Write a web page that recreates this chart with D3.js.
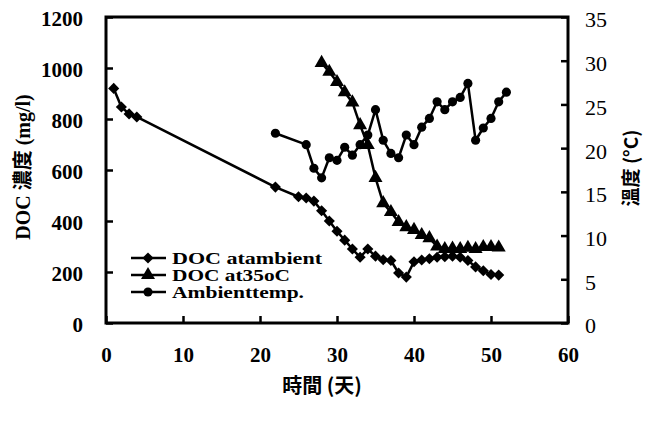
<!DOCTYPE html>
<html>
<head>
<meta charset="utf-8">
<script src="https://cdn.jsdelivr.net/npm/d3@7"></script>
<style>
  body { margin: 0; background: #fff; }
  .tick text { font-family: "Liberation Serif", "Times New Roman", serif; }
</style>
</head>
<body>
<div id="chart"></div>
<script>
// DOC at ambient (mg/l), left axis
var ambDays = [1, 2, 3, 4, 22, 25, 26, 27, 28, 29, 30, 31, 32, 33, 34, 35, 36, 37, 38, 39, 40, 41, 42, 43, 44, 45, 46, 47, 48, 49, 50, 51];
var ambDoc = [920, 847, 820, 808, 533, 495, 490, 478, 440, 400, 360, 325, 290, 258, 290, 262, 248, 245, 196, 180, 240, 247, 252, 258, 260, 262, 258, 245, 220, 205, 190, 188];

// DOC at 35oC (mg/l), left axis
var hotDays = [28, 29, 30, 31, 32, 33, 34, 35, 36, 37, 38, 39, 40, 41, 42, 43, 44, 45, 46, 47, 48, 49, 50, 51];
var hotDoc = [1020, 985, 945, 905, 865, 776, 698, 569, 470, 435, 396, 376, 365, 345, 333, 300, 290, 292, 290, 295, 290, 298, 298, 296];

// ambient temperature (oC), right axis
var tempDays = [22, 26, 27, 28, 29, 30, 31, 32, 33, 34, 35, 36, 37, 38, 39, 40, 41, 42, 43, 44, 45, 46, 47, 48, 49, 50, 51, 52];
var tempVals = [21.7, 20.4, 17.7, 16.6, 18.9, 18.6, 20.1, 19.2, 20.4, 21.5, 24.4, 20.9, 19.4, 18.9, 21.5, 20.4, 22.4, 23.4, 25.3, 24.4, 25.3, 25.8, 27.4, 20.9, 22.3, 23.4, 25.3, 26.4];

var xTicks = [0, 10, 20, 30, 40, 50, 60];
var yTicks = [0, 200, 400, 600, 800, 1000, 1200];
var y2Ticks = [0, 5, 10, 15, 20, 25, 30, 35];
var legendNames = ['DOC atambient', 'DOC at35oC', 'Ambienttemp.'];

function drawChart() {
  var width = 645, height = 423;
  var plot = { left: 106, right: 568, top: 17, bottom: 323 };

  var svg = d3.select('#chart').append('svg')
    .attr('width', width)
    .attr('height', height);

  var xScale = d3.scaleLinear().domain([0, 60]).range([plot.left, plot.right]);
  var yScale = d3.scaleLinear().domain([0, 1200]).range([plot.bottom, plot.top]);
  var y2Scale = d3.scaleLinear().domain([0, 35]).range([plot.bottom, plot.top]);
  var fmt = d3.format('d');

  // axes, ticks pointing inside
  var xAxis = svg.append('g')
    .attr('transform', 'translate(0,' + plot.bottom + ')')
    .call(d3.axisBottom(xScale).tickValues(xTicks).tickFormat(fmt).tickSize(-7).tickPadding(24));
  var yAxis = svg.append('g')
    .attr('transform', 'translate(' + plot.left + ',0)')
    .call(d3.axisLeft(yScale).tickValues(yTicks).tickFormat(fmt).tickSize(-7).tickPadding(23));
  var y2Axis = svg.append('g')
    .attr('transform', 'translate(' + plot.right + ',0)')
    .call(d3.axisRight(y2Scale).tickValues(y2Ticks).tickFormat(fmt).tickSize(-7).tickPadding(17));

  [xAxis, yAxis, y2Axis].forEach(function(a) {
    a.select('.domain').remove();
    a.selectAll('.tick line').attr('stroke', '#000').attr('stroke-width', 2.5);
    a.selectAll('.tick text').attr('fill', '#000');
  });
  xAxis.selectAll('.tick text').style('font-size', '21px').style('font-weight', 'bold');
  yAxis.selectAll('.tick text').style('font-size', '21px').style('font-weight', 'bold').attr('dy', '0.42em');
  y2Axis.selectAll('.tick text').style('font-size', '22px').attr('dy', '0.45em');

  // frame
  svg.append('rect')
    .attr('x', plot.left)
    .attr('y', plot.top)
    .attr('width', plot.right - plot.left)
    .attr('height', plot.bottom - plot.top)
    .attr('fill', 'none')
    .attr('stroke', '#000')
    .attr('stroke-width', 3);

  var series = [
    { days: ambDays, vals: ambDoc, y: yScale, sym: d3.symbolSquare, size: 62, rot: 45 },
    { days: hotDays, vals: hotDoc, y: yScale, sym: d3.symbolTriangle, size: 85, rot: 0 },
    { days: tempDays, vals: tempVals, y: y2Scale, sym: d3.symbolCircle, size: 66, rot: 0 }
  ];

  series.forEach(function(s) {
    var pts = s.days.map(function(d, i) { return [d, s.vals[i]]; });
    var line = d3.line()
      .x(function(p) { return xScale(p[0]); })
      .y(function(p) { return s.y(p[1]); });
    svg.append('path')
      .datum(pts)
      .attr('d', line)
      .attr('fill', 'none')
      .attr('stroke', '#000')
      .attr('stroke-width', 2.5)
      .attr('stroke-linejoin', 'round');
    svg.append('g').selectAll('path')
      .data(pts)
      .enter().append('path')
      .attr('d', d3.symbol().type(s.sym).size(s.size))
      .attr('transform', function(p) {
        return 'translate(' + xScale(p[0]) + ',' + s.y(p[1]) + ') rotate(' + s.rot + ')';
      })
      .attr('fill', '#000');
  });

  // legend
  var legend = svg.append('g');
  legendNames.forEach(function(name, i) {
    var ly = 258 + i * 17;
    legend.append('line')
      .attr('x1', 131).attr('x2', 166)
      .attr('y1', ly).attr('y2', ly)
      .attr('stroke', '#000').attr('stroke-width', 2.5);
    legend.append('path')
      .attr('d', d3.symbol().type(series[i].sym).size(series[i].size))
      .attr('transform', 'translate(148,' + ly + ') rotate(' + series[i].rot + ')')
      .attr('fill', '#000');
    legend.append('text')
      .attr('x', 172)
      .attr('y', ly + 6)
      .attr('textLength', [150, 118, 132][i])
      .attr('lengthAdjust', 'spacingAndGlyphs')
      .style('font-family', '"Liberation Serif", serif')
      .style('font-weight', 'bold')
      .style('font-size', '16px')
      .text(name);
  });

  // axis titles
  svg.append('text')
    .attr('transform', 'translate(30,167) rotate(-90)')
    .attr('text-anchor', 'middle')
    .style('font-family', '"Liberation Serif", "Noto Sans CJK TC", serif')
    .style('font-weight', 'bold')
    .style('font-size', '20px')
    .text('DOC 濃度 (mg/l)');

  svg.append('text')
    .attr('x', 322)
    .attr('y', 393)
    .attr('text-anchor', 'middle')
    .style('font-family', '"Noto Sans CJK TC", sans-serif')
    .style('font-weight', 'bold')
    .style('font-size', '20px')
    .text('時間 (天)');

  svg.append('text')
    .attr('transform', 'translate(638,168) rotate(-90)')
    .attr('text-anchor', 'middle')
    .style('font-family', '"Noto Sans CJK TC", sans-serif')
    .style('font-weight', 'bold')
    .style('font-size', '19px')
    .text('溫度 (°C)');
}

drawChart();
</script>
</body>
</html>
